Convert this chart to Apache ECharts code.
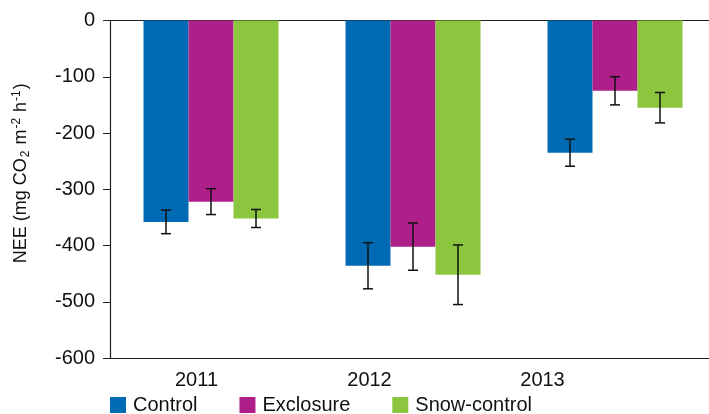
<!DOCTYPE html>
<html>
<head>
<meta charset="utf-8">
<script src="https://cdn.jsdelivr.net/npm/echarts@6/dist/echarts.min.js"></script>
<style>
  html, body {margin:0;padding:0;background:#fff;}
  #chart {width:709px;height:414px;}
</style>
</head>
<body>
<div id="chart"></div>
<script>
// data
var years = ['2011', '2012', '2013'];
var seriesNames = ['Control', 'Exclosure', 'Snow-control'];
var control = [-358, -436, -235];
var exclosure = [-322, -402, -125];
var snowControl = [-352, -452, -155];
// error bar half lengths
var controlErr = [21, 41, 24];
var exclosureErr = [23, 42, 25];
var snowControlErr = [16, 53, 27];
var yTicks = [0, -100, -200, -300, -400, -500, -600];

var colors = ['#006AB4', '#AF1F8A', '#8CC63F'];
var font = 'Liberation Sans';
var barW = 45;

var chart = echarts.init(document.getElementById('chart'));

function errSeries(i, means, errs) {
    var data = means.map(function (m, k) { return [k, m, errs[k]]; });
    return {
        type: 'custom',
        xAxisIndex: 0,
        yAxisIndex: 0,
        z: 10,
        silent: true,
        data: data,
        renderItem: function (params, api) {
            var x = api.value(0), m = api.value(1), e = api.value(2);
            var hi = api.coord([x, m + e]);
            var lo = api.coord([x, m - e]);
            var cx = hi[0] + (i - 1) * barW;
            var style = {stroke: '#111', lineWidth: 1.5};
            return {
                type: 'group',
                children: [
                    {type: 'line', shape: {x1: cx, y1: hi[1], x2: cx, y2: lo[1]}, style: style},
                    {type: 'line', shape: {x1: cx - 5, y1: hi[1], x2: cx + 5, y2: hi[1]}, style: style},
                    {type: 'line', shape: {x1: cx - 5, y1: lo[1], x2: cx + 5, y2: lo[1]}, style: style}
                ]
            };
        }
    };
}

function barSeries(i, values) {
    return {
        name: seriesNames[i],
        type: 'bar',
        xAxisIndex: 0,
        yAxisIndex: 0,
        barWidth: barW,
        barGap: '0%',
        itemStyle: {color: colors[i]},
        data: values
    };
}

var option = {
    animation: false,
    backgroundColor: '#fff',
    textStyle: {fontFamily: font, color: '#111'},
    grid: [
        {left: 110, top: 20.5, width: 606, height: 337.5, outerBoundsMode: 'none'},
        // grid only used to place the year labels like in the figure
        {left: 110, top: 20.5, width: 519, height: 337.5, outerBoundsMode: 'none'}
    ],
    legend: {
        data: seriesNames,
        left: 110,
        top: 395,
        padding: 0,
        icon: 'rect',
        itemWidth: 16,
        itemHeight: 16,
        itemGap: 42,
        textStyle: {fontFamily: font, fontSize: 20, color: '#111', padding: [0, 0, 0, 2]}
    },
    xAxis: [
        {
            type: 'category', gridIndex: 0, data: years, position: 'bottom',
            axisLine: {show: true, onZero: false, lineStyle: {color: '#222', width: 1.2}},
            axisTick: {show: false}, axisLabel: {show: false}
        },
        {
            type: 'category', gridIndex: 0, data: years, position: 'top',
            axisLine: {show: true, onZero: false, lineStyle: {color: '#222', width: 1.2}},
            axisTick: {show: false}, axisLabel: {show: false}
        },
        {
            type: 'category', gridIndex: 1, data: years, position: 'bottom',
            axisLine: {show: false, onZero: false}, axisTick: {show: false},
            axisLabel: {margin: 12, fontSize: 20, fontFamily: font, color: '#111'}
        }
    ],
    yAxis: [
        {
            type: 'value', gridIndex: 0, min: -600, max: 0, interval: 100,
            axisLine: {show: true, lineStyle: {color: '#222', width: 1.2}},
            axisTick: {show: true, length: 7, lineStyle: {color: '#222'}},
            splitLine: {show: false},
            axisLabel: {
                margin: 15, fontSize: 20, fontFamily: font, color: '#111',
                customValues: yTicks
            },
            name: '{t|NEE (mg CO}{sub|2}{t| m}{sup|-2}{t| h}{sup|-1}{t|)}',
            nameLocation: 'middle',
            nameGap: 78,
            nameTextStyle: {
                fontFamily: font, fontSize: 18, color: '#111',
                padding: [0, 0, 0, 32],
                rich: {
                    t: {fontSize: 18, fontFamily: font, color: '#111'},
                    sub: {fontSize: 12, fontFamily: font, color: '#111', verticalAlign: 'bottom', padding: [9, 1, 0, 1]},
                    sup: {fontSize: 12, fontFamily: font, color: '#111', verticalAlign: 'top', padding: [0, 1, 7, 1]}
                }
            }
        },
        {type: 'value', gridIndex: 1, show: false}
    ],
    series: [
        barSeries(0, control),
        barSeries(1, exclosure),
        barSeries(2, snowControl),
        errSeries(0, control, controlErr),
        errSeries(1, exclosure, exclosureErr),
        errSeries(2, snowControl, snowControlErr)
    ]
};

chart.setOption(option);
</script>
</body>
</html>
